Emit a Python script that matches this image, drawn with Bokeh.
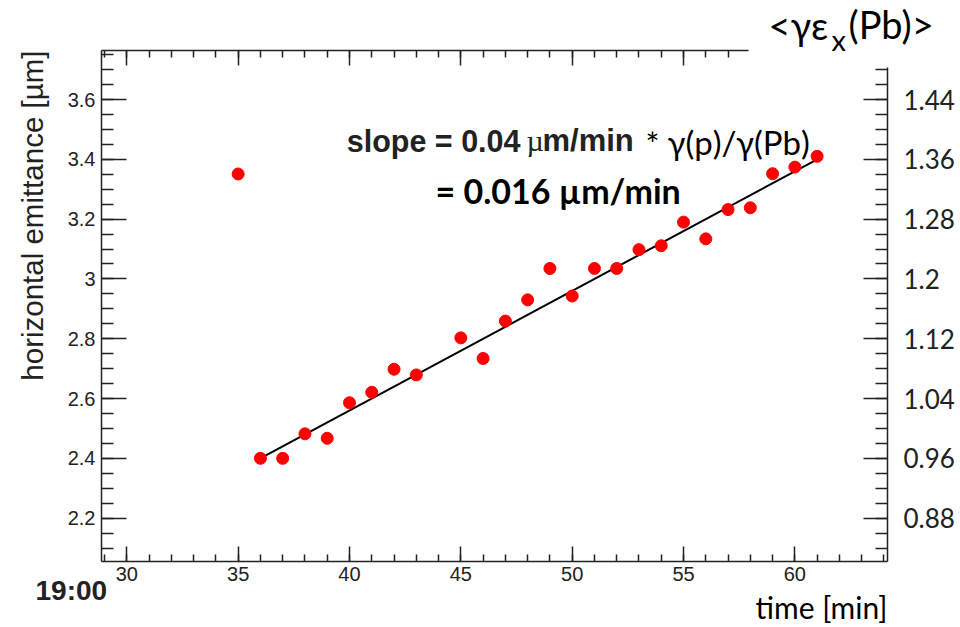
from bokeh.plotting import figure
from bokeh.models import (
    ColumnDataSource, CustomJSTickFormatter, Label, LinearAxis, Range1d,
    SingleIntervalTicker, Title,
)
from bokeh.embed import file_html
from bokeh.resources import INLINE

# ---- measurements: time after 19:00 [min] and horizontal emittance [um] ----
time_min = [35, 36, 37, 38, 39, 40, 41, 42, 43, 45, 46, 47, 48,
            49, 50, 51, 52, 53, 54, 55, 56, 57, 58, 59, 60, 61]
emittance = [3.351, 2.400, 2.400, 2.482, 2.467, 2.586, 2.621, 2.698, 2.679,
             2.803, 2.734, 2.859, 2.930, 3.035, 2.943, 3.035, 3.035, 3.098,
             3.111, 3.190, 3.134, 3.232, 3.238, 3.352, 3.374, 3.410]

# linear fit: slope in um/min for protons, scaled by gamma(p)/gamma(Pb)
slope_p = 0.04
slope_pb = 0.016
gamma_ratio = slope_pb / slope_p
fit_range = [36.1, 60.9]
fit_start = 2.404
fit_y = [fit_start + slope_p * (t - fit_range[0]) for t in fit_range]

# ---- frame geometry ----
XS, XE = 28.864, 64.16
YS, YE = 2.055, 3.764
FL, FR, FT, FB = 101, 887, 50, 561
W, H = 960, 627


def at_x(xp):
    return XS + (xp - FL) * (XE - XS) / (FR - FL)


def at_y(yp):
    return YE - (yp - FT) * (YE - YS) / (FB - FT)


p = figure(width=W, height=H, x_range=Range1d(XS, XE), y_range=Range1d(YS, YE),
           output_backend="svg", toolbar_location=None, title_location=None,
           x_axis_location=None, y_axis_location=None,
           min_border_left=FL, min_border_right=W - FR,
           min_border_top=FT, min_border_bottom=H - FB)
p.outline_line_color = None
p.background_fill_color = "white"
p.border_fill_color = "white"
p.xgrid.visible = False
p.ygrid.visible = False
p.extra_y_ranges = {"pb": Range1d(YS * gamma_ratio, YE * gamma_ratio)}

num_fmt = CustomJSTickFormatter(code="return String(Math.round(tick * 100) / 100)")
blank_fmt = CustomJSTickFormatter(code="return ''")

INK = "#222222"


def style(ax, major_in, minor_in, standoff, font, size):
    ax.major_tick_in = major_in
    ax.major_tick_out = 0
    ax.minor_tick_in = minor_in
    ax.minor_tick_out = 0
    for attr in ("axis_line", "major_tick_line", "minor_tick_line"):
        setattr(ax, attr + "_color", INK)
        setattr(ax, attr + "_width", 1.5)
    ax.major_label_standoff = standoff
    ax.major_label_text_font = font
    ax.major_label_text_font_size = size
    ax.major_label_text_color = INK


def side_text(side, text, font, size, align, offset, valign, standoff,
              bold=False, color="black"):
    p.add_layout(Title(text=text, text_font=font, text_font_size=size,
                       text_font_style="bold" if bold else "normal",
                       text_color=color, align=align, offset=offset,
                       vertical_align=valign, standoff=standoff), side)


# bottom time axis, then "19:00" and "time [min]" underneath
bottom = LinearAxis(ticker=SingleIntervalTicker(interval=5, num_minor_ticks=5),
                    formatter=num_fmt)
style(bottom, 15, 7, 5, "Liberation Sans", "20px")
p.add_layout(bottom, "below")
side_text("below", "19:00", "Liberation Sans", "28px", "left", 35 - FL,
          "top", -16.6, bold=True, color=INK)
side_text("below", "time [min]", "Lato", "30px", "right", 0, "bottom", -24.6)

# top frame edge with ticks only, stopping short of the right-hand title
top = LinearAxis(ticker=SingleIntervalTicker(interval=5, num_minor_ticks=5),
                 formatter=blank_fmt, bounds=(XS, at_x(748)))
style(top, 15, 7, 0, "Liberation Sans", "0px")
top.major_label_text_color = None
p.add_layout(top, "above")

# right-hand title <γε_x(Pb)>
side_text("above", "x", "Lato", "29px", "left", 831 - FL, "bottom", -12.8)
side_text("above", "<γε", "Lato", "38px", "left", 768 - FL, "top", -46.6)
side_text("above", "(Pb)>", "Lato", "38px", "left", 848 - FL, "top", -46.6)

# left emittance axis with its title aligned to the top end
left = LinearAxis(ticker=SingleIntervalTicker(interval=0.2, num_minor_ticks=4),
                  formatter=num_fmt)
style(left, 25, 12, 6, "Liberation Sans", "20px")
p.add_layout(left, "left")
side_text("left", "horizontal emittance [µm]", "Liberation Sans", "29.5px",
          "right", 0, "top", 28, color=INK)

# right axis: emittance scaled to Pb
right = LinearAxis(y_range_name="pb",
                   ticker=SingleIntervalTicker(interval=0.08, num_minor_ticks=4),
                   formatter=num_fmt,
                   bounds=(YS * gamma_ratio, at_y(67) * gamma_ratio))
style(right, 24, 12, 16, "Lato", "26px")
p.add_layout(right, "right")

# ---- data and fit ----
src = ColumnDataSource(dict(t=time_min, e=emittance))
p.line(fit_range, fit_y, line_color="black", line_width=2)
p.scatter("t", "e", source=src, size=12, fill_color="#ff0000",
          line_color="#ff0000")


def text(s, xp, yp, font, size, style="normal", color="black", align="left"):
    p.add_layout(Label(x=at_x(xp), y=at_y(yp), text=s, text_font=font,
                       text_font_size=f"{size}px", text_font_style=style,
                       text_align=align, text_baseline="alphabetic",
                       text_color=color))


# slope annotation
text("slope = 0.04", 520, 140, "Liberation Sans", 30.5, style="bold",
     color=INK, align="right")
text("µ", 526, 140, "Liberation Serif", 30, color=INK)
text("m/min", 542, 140, "Liberation Sans", 31, style="bold", color=INK)
text("*", 645, 142, "Lato", 33)
text("γ(p)/γ(Pb)", 667, 141, "Lato", 33)
text("= 0.016 µm/min", 435, 190, "Lato", 34, style="bold")

open("out.html", "w").write(file_html(p, INLINE))
